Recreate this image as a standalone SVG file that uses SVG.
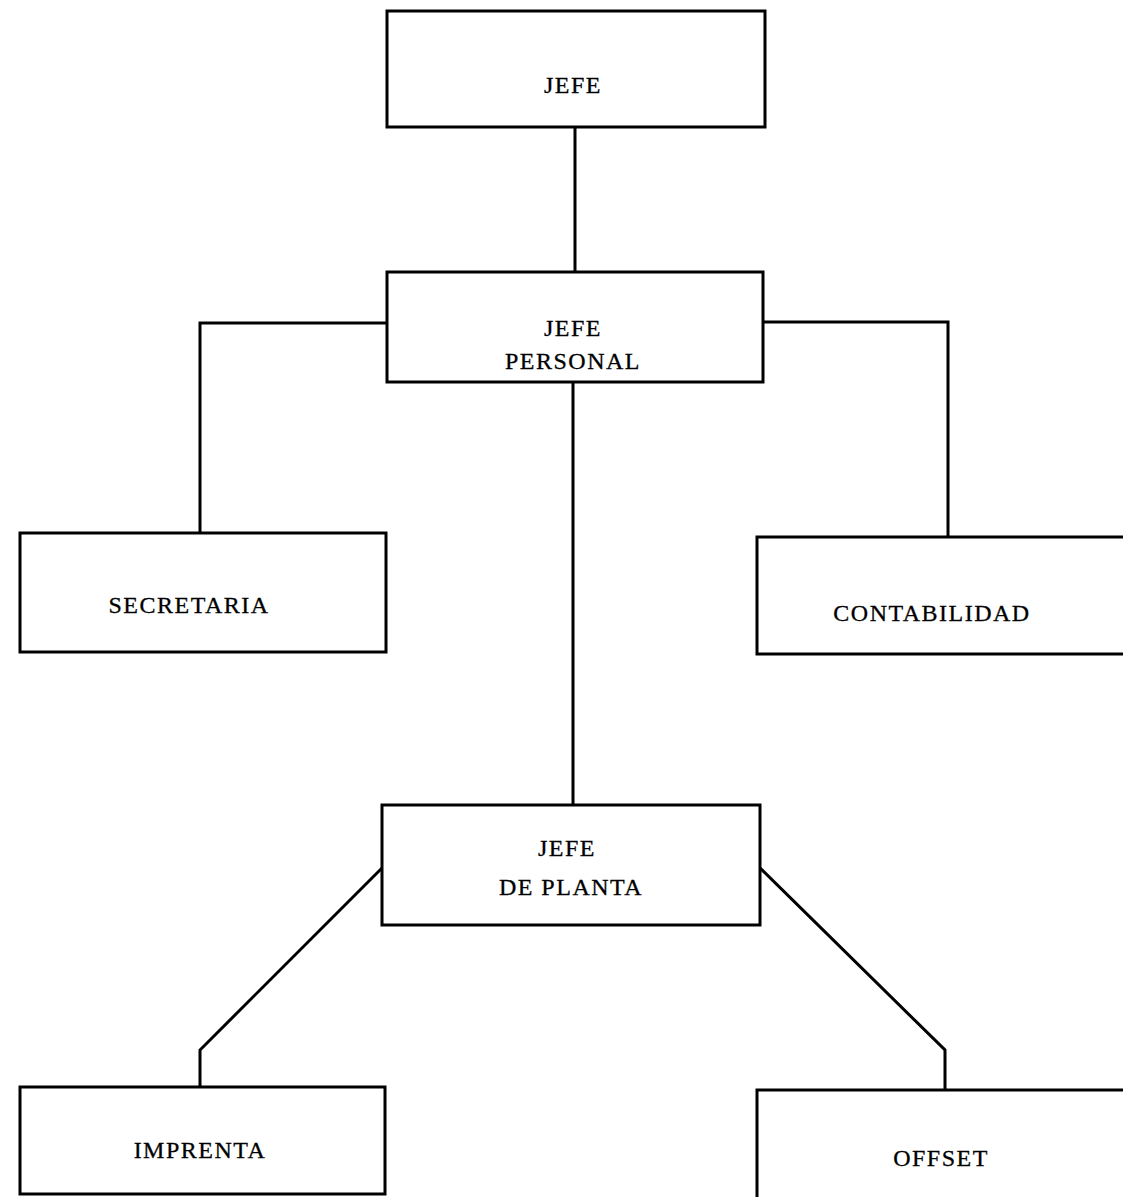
<svg xmlns="http://www.w3.org/2000/svg" width="1123" height="1197" viewBox="0 0 1123 1197">
<style>
.box{fill:#fff;stroke:#000;stroke-width:3}
.ln{fill:none;stroke:#000;stroke-width:3;stroke-linejoin:miter}
text{font-family:"Liberation Serif","Times New Roman",serif;font-size:24px;letter-spacing:1.5px;fill:#000;text-anchor:middle;stroke:#000;stroke-width:0.3}
</style>
<rect width="1123" height="1197" fill="#fff"/>
<g id="connectors">
<line class="ln" x1="575" y1="127" x2="575" y2="272"/>
<polyline class="ln" points="387,323 200,323 200,533"/>
<polyline class="ln" points="763,322 948,322 948,537"/>
<line class="ln" x1="573" y1="382" x2="573" y2="805"/>
<polyline class="ln" points="382,868 200,1050 200,1087"/>
<polyline class="ln" points="760,868 945,1050 945,1090"/>
</g>
<g id="jefe"><rect class="box" x="387" y="11" width="378" height="116"/><text x="573" y="93">JEFE</text></g>
<g id="jefe-personal"><rect class="box" x="387" y="272" width="376" height="110"/><text x="573" y="336">JEFE</text><text x="573" y="369">PERSONAL</text></g>
<g id="secretaria"><rect class="box" x="20" y="533" width="366" height="119"/><text x="189" y="613">SECRETARIA</text></g>
<g id="contabilidad"><rect class="box" x="757" y="537" width="370" height="117"/><text x="932" y="621">CONTABILIDAD</text></g>
<g id="jefe-planta"><rect class="box" x="382" y="805" width="378" height="120"/><text x="567" y="856">JEFE</text><text x="571" y="895">DE PLANTA</text></g>
<g id="imprenta"><rect class="box" x="20" y="1087" width="365" height="107"/><text x="200" y="1158">IMPRENTA</text></g>
<g id="offset"><rect class="box" x="757" y="1090" width="370" height="110"/><text x="941" y="1166">OFFSET</text></g>
</svg>
